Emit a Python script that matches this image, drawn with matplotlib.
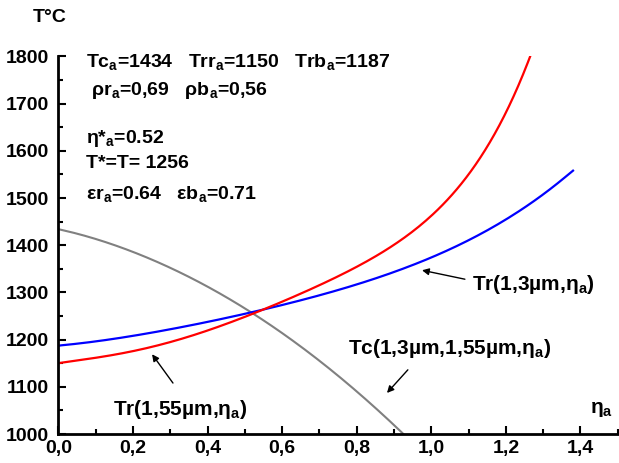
import numpy as np
import matplotlib
matplotlib.use("Agg")
import matplotlib.pyplot as plt
from matplotlib.ticker import MultipleLocator, FuncFormatter

plt.rcParams['font.family'] = ['Liberation Sans', 'DejaVu Sans']
plt.rcParams['font.weight'] = 'bold'
plt.rcParams['mathtext.fontset'] = 'custom'
plt.rcParams['mathtext.rm'] = 'Liberation Sans:bold'
plt.rcParams['mathtext.it'] = 'Liberation Sans:bold'
plt.rcParams['mathtext.bf'] = 'Liberation Sans:bold'

# Tr(1,55um) - red
eta_red = [0.0, 0.1, 0.2, 0.3, 0.4, 0.5, 0.6, 0.7, 0.8, 0.9, 1.0, 1.1, 1.2, 1.265]
t_red = [1150, 1162, 1176, 1194, 1218, 1250, 1283, 1313, 1352, 1402, 1466, 1547, 1682, 1800]

# Tr(1,3um) - blue
eta_blue = [0.0, 0.1, 0.2, 0.3, 0.4, 0.5, 0.6, 0.7, 0.8, 0.9, 1.0, 1.1, 1.2, 1.3, 1.38]
t_blue = [1187, 1197, 1208, 1222, 1237, 1254, 1274, 1294, 1318, 1344, 1372, 1410, 1456, 1508, 1558]

# Tc - gray
eta_gray = [0.0, 0.1, 0.2, 0.3, 0.4, 0.5, 0.6, 0.7, 0.8, 0.9, 0.925]
t_gray = [1434, 1413, 1386, 1352, 1312, 1266, 1214, 1155, 1090, 1019, 1000]

info_lines = [
    "Tc$_a$=1434   Trr$_a$=1150   Trb$_a$=1187",
    " ρr$_a$=0,69   ρb$_a$=0,56",
    "η*$_a$=0.52",
    "T*=T= 1256",
    "εr$_a$=0.64   εb$_a$=0.71",
]
info_y = [1788, 1727, 1627, 1574, 1508]


def smooth(x, y, n=200):
    # polynomial smoothing through the read points
    x = np.asarray(x, float)
    y = np.asarray(y, float)
    xs = np.linspace(x[0], x[-1], n)
    c = np.polyfit(x, y, min(5, len(x) - 1))
    ys = np.polyval(c, xs)
    ys[0], ys[-1] = y[0], y[-1]
    return xs, ys


fig = plt.figure(figsize=(6.19, 4.63), dpi=100)
ax = fig.add_axes([0.0945, 0.0626, 0.9035, 0.8155])

ax.plot(*smooth(eta_gray, t_gray), color='#808080', lw=1.5)
ax.plot(*smooth(eta_blue, t_blue), color='#0000ff', lw=1.6)
ax.plot(*smooth(eta_red, t_red), color='#ff0000', lw=1.6)

ax.set_xlim(0, 1.5)
ax.set_ylim(1000, 1800)
for s in ['top', 'right']:
    ax.spines[s].set_visible(False)
for s in ['left', 'bottom']:
    ax.spines[s].set_linewidth(2)

ax.xaxis.set_major_locator(MultipleLocator(0.2))
ax.xaxis.set_minor_locator(MultipleLocator(0.1))
ax.yaxis.set_major_locator(MultipleLocator(100))
ax.yaxis.set_minor_locator(MultipleLocator(50))
ax.xaxis.set_major_formatter(FuncFormatter(lambda v, p: f"{v:.1f}".replace('.', ',')))
ax.yaxis.set_major_formatter(FuncFormatter(lambda v, p: f"{v:.0f}"))
ax.tick_params(which='major', direction='in', length=6, width=1.5, labelsize=14, pad=4)
ax.tick_params(which='minor', direction='in', length=3.5, width=1.5)
ax.tick_params(axis='y', pad=7)
for lab in ax.get_xticklabels() + ax.get_yticklabels():
    lab.set_fontweight('bold')

for txt, y in zip(info_lines, info_y):
    ax.text(0.074, y, txt, fontsize=14, fontweight='bold', va='center', ha='left')

ax.text(1.109, 1316, "Tr(1,3µm,η$_a$)", fontsize=15, fontweight='bold', va='center')
ax.text(0.776, 1182, "Tc(1,3µm,1,55µm,η$_a$)", fontsize=15, fontweight='bold', va='center')
ax.text(0.146, 1051, "Tr(1,55µm,η$_a$)", fontsize=15, fontweight='bold', va='center')
ax.text(1.425, 1051, "η$_a$", fontsize=15, fontweight='bold', va='center')

arrow = dict(arrowstyle='-|>', color='black', lw=1, mutation_scale=10, shrinkA=0, shrinkB=0)
ax.annotate("", xy=(0.975, 1347), xytext=(1.09, 1328), arrowprops=arrow)
ax.annotate("", xy=(0.881, 1087), xytext=(0.937, 1136), arrowprops=arrow)
ax.annotate("", xy=(0.251, 1169), xytext=(0.307, 1108), arrowprops=arrow)

fig.text(50 / 619, 1 - 18 / 463, "T°C", fontsize=14, fontweight='bold', ha='center', va='center')

fig.savefig("out.png", dpi=100)
